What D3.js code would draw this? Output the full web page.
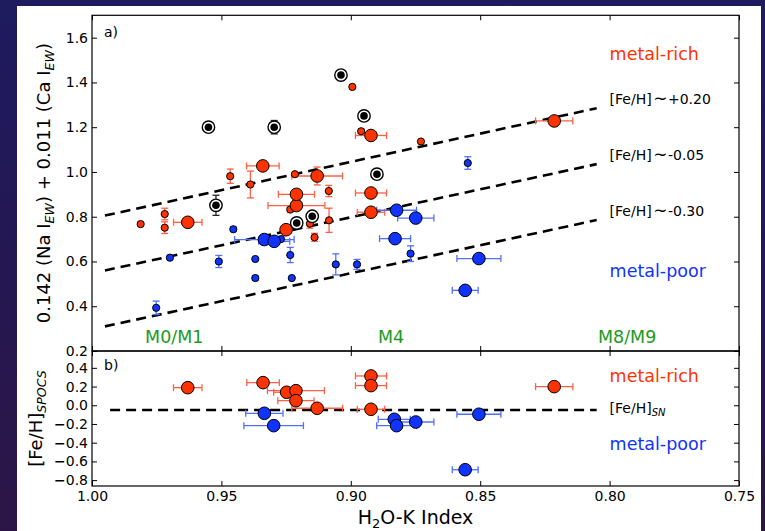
<!DOCTYPE html>
<html>
<head>
<meta charset="utf-8">
<script src="https://cdn.jsdelivr.net/npm/d3@7"></script>
<style>
  html, body { margin: 0; padding: 0; background: #231a55; }
  svg { display: block; font-family: "DejaVu Sans", sans-serif; }
</style>
</head>
<body>
<svg id="chart" width="765" height="531"></svg>
<script>
// ---- data ---------------------------------------------------------------
// H2O-K index (x) versus Na/Ca equivalent-width combination (panel a)
// and spectroscopic [Fe/H] (panel b).

// metal-rich calibrators: [x, y, xErr, yErr]
const richBigA = [
  [0.963, 0.775, 0.0055, 0], [0.934, 1.027, 0.0063, 0], [0.925, 0.742, 0.002, 0],
  [0.921, 0.850, 0.011, 0], [0.921, 0.900, 0.007, 0], [0.913, 0.982, 0.0098, 0.04],
  [0.8922, 1.163, 0.006, 0], [0.8922, 0.906, 0.006, 0], [0.8922, 0.820, 0.0053, 0],
  [0.8214, 1.228, 0.0072, 0]
];
// metal-poor calibrators
const poorBigA = [
  [0.9334, 0.698, 0.0115, 0], [0.9296, 0.690, 0.006, 0.01], [0.8823, 0.829, 0.0077, 0],
  [0.8749, 0.794, 0.007, 0], [0.8829, 0.702, 0.006, 0], [0.8505, 0.613, 0.0085, 0],
  [0.8558, 0.471, 0.005, 0]
];
// other metal-rich stars: [x, y, yErr]
const richSmallA = [
  [0.9466, 0.981, 0.032], [0.9388, 0.944, 0.06], [0.9216, 0.990, 0.005],
  [0.8994, 1.380, 0], [0.896, 1.182, 0.01], [0.8729, 1.136, 0],
  [0.9085, 0.915, 0.025], [0.9719, 0.812, 0.026], [0.9812, 0.767, 0.01],
  [0.9719, 0.751, 0.026], [0.9234, 0.832, 0.01], [0.9158, 0.769, 0.02],
  [0.9084, 0.784, 0.054], [0.914, 0.708, 0.018]
];
// other metal-poor stars: [x, y, yErr]
const poorSmallA = [
  [0.9454, 0.744, 0.01], [0.927, 0.700, 0.01], [0.9699, 0.617, 0.005],
  [0.951, 0.600, 0.027], [0.9369, 0.611, 0], [0.9234, 0.629, 0.034],
  [0.9369, 0.526, 0.01], [0.9228, 0.526, 0], [0.9058, 0.587, 0.047],
  [0.8976, 0.587, 0.022], [0.9752, 0.393, 0.03], [0.8769, 0.635, 0.035],
  [0.8548, 1.040, 0.028]
];
// young / active stars (circled): [x, y, yErr]
const circledA = [
  [0.955, 1.200, 0.01], [0.9296, 1.200, 0.03], [0.9038, 1.433, 0],
  [0.8949, 1.2505, 0], [0.8899, 0.990, 0], [0.9521, 0.851, 0.045],
  [0.9149, 0.802, 0], [0.9209, 0.772, 0.01]
];
// iso-metallicity relations: [x0, y0, x1, y1]
const isoLines = [
  [0.995, 0.805, 0.805, 1.285],
  [0.995, 0.560, 0.805, 1.035],
  [0.995, 0.310, 0.805, 0.785]
];
const isoLabels = ["+0.20", "-0.05", "-0.30"];

// panel b: [x, [Fe/H], xErr]
const richB = [
  [0.963, 0.188, 0.0055], [0.9339, 0.242, 0.0063], [0.9248, 0.139, 0.005],
  [0.9212, 0.156, 0.011], [0.9212, 0.049, 0.007], [0.913, -0.032, 0.0098],
  [0.8922, 0.313, 0.006], [0.8922, 0.210, 0.006], [0.8922, -0.043, 0.0053],
  [0.8214, 0.199, 0.0072]
];
const poorB = [
  [0.9334, -0.086, 0.0072], [0.9298, -0.218, 0.0115], [0.8832, -0.150, 0.0062],
  [0.8823, -0.218, 0.0077], [0.8749, -0.179, 0.007], [0.8505, -0.096, 0.0085],
  [0.8558, -0.689, 0.005]
];
const snLine = [0.993, -0.05, 0.805, -0.05];

const spectralTypes = ["M0/M1", "M4", "M8/M9"];
const spectralTypeX = [0.9795, 0.8895, 0.8045];

const xTicks = [1.00, 0.95, 0.90, 0.85, 0.80, 0.75];
const yTicksA = [0.2, 0.4, 0.6, 0.8, 1.0, 1.2, 1.4, 1.6];
const yTicksB = [0.4, 0.2, 0.0, -0.2, -0.4, -0.6, -0.8];

// ---- styling -------------------------------------------------------------
const RED = "#ff3300", RED_ERR = "#ff6045";
const BLUE = "#1033ff", BLUE_ERR = "#5070ff";
const GREEN = "#1e9a1e";

const svg = d3.select("#chart");

// slide background and white card
const defs = svg.append("defs");
const grad = defs.append("linearGradient").attr("id", "bg")
  .attr("x1", 0).attr("y1", 0).attr("x2", 0).attr("y2", 1);
grad.append("stop").attr("offset", "0%").attr("stop-color", "#1e1b5f");
grad.append("stop").attr("offset", "100%").attr("stop-color", "#2c1546");
svg.append("rect").attr("width", 765).attr("height", 531).attr("fill", "url(#bg)");
svg.append("rect").attr("x", 17).attr("y", 6).attr("width", 744).attr("height", 525).attr("fill", "#fff");

// ---- scales --------------------------------------------------------------
const L = 92, R = 739, TOP = 15.3, MID = 351, BOT = 486;
const x = d3.scaleLinear().domain([1.0, 0.75]).range([L, R]);
const ya = d3.scaleLinear().domain([0.2, 1.7]).range([MID, TOP]);
const yb = d3.scaleLinear().domain([-0.863, 0.58]).range([BOT, MID]);

// ---- helpers -------------------------------------------------------------
function dashed(g, pts, yScale) {
  g.selectAll(null).data(pts).join("line")
    .attr("x1", d => x(d[0])).attr("y1", d => yScale(d[1]))
    .attr("x2", d => x(d[2])).attr("y2", d => yScale(d[3]))
    .attr("stroke", "#000").attr("stroke-width", 2.6)
    .attr("stroke-dasharray", "10,6");
}
function xErrBars(g, data, yScale, color) {
  const cap = 3.5;
  data.filter(d => d[2] > 0).forEach(d => {
    const y0 = yScale(d[1]), xa = x(d[0] + d[2]), xb = x(d[0] - d[2]);
    g.append("line").attr("x1", xa).attr("x2", xb).attr("y1", y0).attr("y2", y0)
      .attr("stroke", color).attr("stroke-width", 1.3);
    [xa, xb].forEach(xx => g.append("line").attr("x1", xx).attr("x2", xx)
      .attr("y1", y0 - cap).attr("y2", y0 + cap).attr("stroke", color).attr("stroke-width", 1.3));
  });
}
function yErrBars(g, data, yScale, idx, color) {
  const cap = 3.5;
  data.filter(d => d[idx] > 0).forEach(d => {
    const x0 = x(d[0]), ya0 = yScale(d[1] + d[idx]), yb0 = yScale(d[1] - d[idx]);
    g.append("line").attr("x1", x0).attr("x2", x0).attr("y1", ya0).attr("y2", yb0)
      .attr("stroke", color).attr("stroke-width", 1.3);
    [ya0, yb0].forEach(yy => g.append("line").attr("x1", x0 - cap).attr("x2", x0 + cap)
      .attr("y1", yy).attr("y2", yy).attr("stroke", color).attr("stroke-width", 1.3));
  });
}
function dots(g, data, yScale, r, fill) {
  g.selectAll(null).data(data).join("circle")
    .attr("cx", d => x(d[0])).attr("cy", d => yScale(d[1])).attr("r", r)
    .attr("fill", fill).attr("stroke", "#000").attr("stroke-width", 1);
}
function boldMinus(sel) {
  sel.selectAll(".tick text").each(function () {
    const t = d3.select(this), s = t.text();
    if (s.startsWith("\u2212")) {
      t.text(null);
      t.append("tspan").attr("font-weight", "bold").text("\u2212");
      t.append("tspan").text(s.slice(1));
    }
  });
}
function styleAxis(g) {
  g.select(".domain").remove();
  g.selectAll(".tick line").attr("stroke", "#000").attr("stroke-width", 1);
  g.selectAll(".tick text").attr("font-size", 14).attr("fill", "#000")
    .attr("font-family", "DejaVu Sans, sans-serif");
}

// ---- panel a ---------------------------------------------------------------
const ga = svg.append("g");
dashed(ga, isoLines, ya);
xErrBars(ga, richBigA, ya, RED_ERR);
xErrBars(ga, poorBigA, ya, BLUE_ERR);
yErrBars(ga, richBigA, ya, 3, RED_ERR);
yErrBars(ga, poorBigA, ya, 3, BLUE_ERR);
yErrBars(ga, richSmallA, ya, 2, RED_ERR);
yErrBars(ga, poorSmallA, ya, 2, BLUE_ERR);
yErrBars(ga, circledA, ya, 2, "#222");
dots(ga, richSmallA, ya, 3.6, RED);
dots(ga, poorSmallA, ya, 3.6, BLUE);
dots(ga, richBigA, ya, 6.3, RED);
dots(ga, poorBigA, ya, 6.3, BLUE);
ga.selectAll(null).data(circledA).join("circle")
  .attr("cx", d => x(d[0])).attr("cy", d => ya(d[1])).attr("r", 6.2)
  .attr("fill", "#fff").attr("stroke", "#000").attr("stroke-width", 1.4);
ga.selectAll(null).data(circledA).join("circle")
  .attr("cx", d => x(d[0])).attr("cy", d => ya(d[1])).attr("r", 3.8)
  .attr("fill", "#000");

// iso-metallicity labels
isoLines.forEach((d, i) => {
  const t = ga.append("text").attr("x", x(0.80)).attr("y", ya(d[3]) - 4)
    .attr("font-size", 14).attr("fill", "#000");
  t.append("tspan").text("[Fe/H]");
  t.append("tspan").attr("dx", 1.5).attr("font-size", 17).text("\u223C");
  t.append("tspan").attr("dx", 0.5).text(isoLabels[i]);
});
ga.append("text").attr("x", x(0.80)).attr("y", 60).attr("font-size", 17.5)
  .attr("fill", RED).text("metal-rich");
ga.append("text").attr("x", x(0.80)).attr("y", 277).attr("font-size", 17.5)
  .attr("fill", BLUE).text("metal-poor");
ga.selectAll(null).data(spectralTypes).join("text")
  .attr("x", (d, i) => x(spectralTypeX[i])).attr("y", 343)
  .attr("font-size", 17.5).attr("fill", GREEN).text(d => d);
ga.append("text").attr("x", 104).attr("y", 37).attr("font-size", 14).text("a)");

// axes of panel a (ticks point inward)
const axLa = svg.append("g").attr("transform", `translate(${L},0)`)
  .call(d3.axisLeft(ya).tickValues(yTicksA).tickSize(-5).tickPadding(4).tickFormat(d3.format(".1f")));
styleAxis(axLa);
const axRa = svg.append("g").attr("transform", `translate(${R},0)`)
  .call(d3.axisRight(ya).tickValues(yTicksA).tickSize(-5).tickFormat(""));
styleAxis(axRa);
const axTa = svg.append("g").attr("transform", `translate(0,${TOP})`)
  .call(d3.axisTop(x).tickValues(xTicks).tickSize(-5).tickFormat(""));
styleAxis(axTa);
const axBa = svg.append("g").attr("transform", `translate(0,${MID})`)
  .call(d3.axisBottom(x).tickValues(xTicks).tickSize(-5).tickFormat(""));
styleAxis(axBa);

// ---- panel b ---------------------------------------------------------------
const gb = svg.append("g");
dashed(gb, [snLine], yb);
xErrBars(gb, richB, yb, RED_ERR);
xErrBars(gb, poorB, yb, BLUE_ERR);
dots(gb, richB, yb, 6.3, RED);
dots(gb, poorB, yb, 6.3, BLUE);

const sn = gb.append("text").attr("x", x(0.80)).attr("y", yb(snLine[3]) + 3)
  .attr("font-size", 14).attr("fill", "#000");
sn.append("tspan").text("[Fe/H]");
sn.append("tspan").attr("font-style", "italic").attr("font-size", 10).attr("dy", 3).text("SN");
gb.append("text").attr("x", x(0.80)).attr("y", 381.5).attr("font-size", 17.5)
  .attr("fill", RED).text("metal-rich");
gb.append("text").attr("x", x(0.80)).attr("y", 450).attr("font-size", 17.5)
  .attr("fill", BLUE).text("metal-poor");
gb.append("text").attr("x", 104).attr("y", 370).attr("font-size", 14).text("b)");

const axLb = svg.append("g").attr("transform", `translate(${L},0)`)
  .call(d3.axisLeft(yb).tickValues(yTicksB).tickSize(-5).tickPadding(4).tickFormat(d3.format(".1f")));
styleAxis(axLb);
boldMinus(axLb);
const axRb = svg.append("g").attr("transform", `translate(${R},0)`)
  .call(d3.axisRight(yb).tickValues(yTicksB).tickSize(-5).tickFormat(""));
styleAxis(axRb);
const axTb = svg.append("g").attr("transform", `translate(0,${MID})`)
  .call(d3.axisTop(x).tickValues(xTicks).tickSize(-5).tickFormat(""));
styleAxis(axTb);
const axBb = svg.append("g").attr("transform", `translate(0,${BOT})`)
  .call(d3.axisBottom(x).tickValues(xTicks).tickSize(-5).tickPadding(5).tickFormat(d3.format(".2f")));
styleAxis(axBb);

// frames
[[TOP, MID], [MID, BOT]].forEach(([t, b]) => {
  svg.append("rect").attr("x", L).attr("y", t).attr("width", R - L).attr("height", b - t)
    .attr("fill", "none").attr("stroke", "#000").attr("stroke-width", 1.2);
});

// ---- axis titles -------------------------------------------------------------
const ylA = svg.append("text").attr("transform", `translate(50,${(TOP + MID) / 2}) rotate(-90)`)
  .attr("text-anchor", "middle").attr("font-size", 18).attr("fill", "#000");
ylA.append("tspan").text("0.142 (Na I");
ylA.append("tspan").attr("font-style", "italic").attr("font-size", 12.6).attr("dy", 4).text("EW");
ylA.append("tspan").attr("dy", -4).text(") + 0.011 (Ca I");
ylA.append("tspan").attr("font-style", "italic").attr("font-size", 12.6).attr("dy", 4).text("EW");
ylA.append("tspan").attr("dy", -4).text(")");

const ylB = svg.append("text").attr("transform", `translate(42,${(MID + BOT) / 2}) rotate(-90)`)
  .attr("text-anchor", "middle").attr("font-size", 18).attr("fill", "#000");
ylB.append("tspan").text("[Fe/H]");
ylB.append("tspan").attr("font-style", "italic").attr("font-size", 12.6).attr("dy", 4).text("SPOCS");

const xl = svg.append("text").attr("x", (L + R) / 2).attr("y", 524)
  .attr("text-anchor", "middle").attr("font-size", 19).attr("fill", "#000");
xl.append("tspan").text("H");
xl.append("tspan").attr("font-size", 13).attr("dy", 4).text("2");
xl.append("tspan").attr("dy", -4).text("O-K Index");
</script>
</body>
</html>
